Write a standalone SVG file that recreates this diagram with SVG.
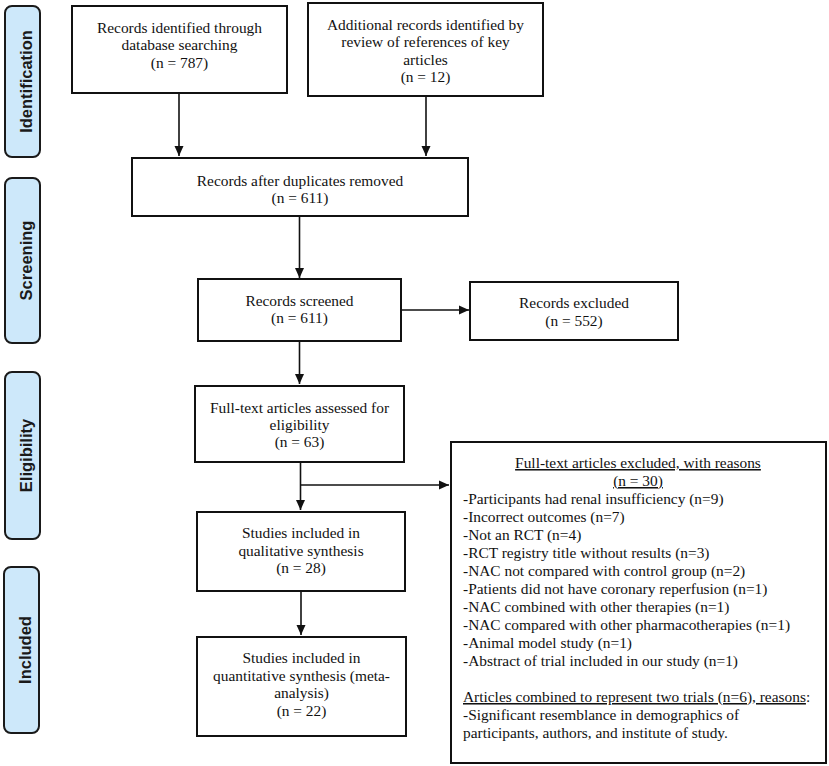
<svg xmlns="http://www.w3.org/2000/svg" width="829" height="766" viewBox="0 0 829 766">
<style>
.box{fill:#fff;stroke:#111;stroke-width:2}
.phase{fill:#cde8fa;stroke:#1a1a1a;stroke-width:2}
.t{font-family:"Liberation Serif","Times New Roman",serif;font-size:15.4px;fill:#111}
.c{text-anchor:middle}
.ph{font-family:"Liberation Sans",Arial,sans-serif;font-size:16.5px;font-weight:bold;fill:#1a1a1a;text-anchor:middle}
.u{text-decoration:underline}
.ln{stroke:#111;stroke-width:1.6;fill:none}
</style>
<defs>
<marker id="ah" markerUnits="userSpaceOnUse" markerWidth="10" markerHeight="10" viewBox="0 0 10 10" refX="10" refY="5" orient="auto">
<path d="M0,0.5 L10,5 L0,9.5 Z" fill="#111"/>
</marker>
</defs>
<g id="phases">
<g id="phase-identification"><rect class="phase" x="5" y="6" width="35" height="151" rx="7"/><text class="ph" transform="translate(31.5,81.5) rotate(-90)">Identification</text></g>
<g id="phase-screening"><rect class="phase" x="5" y="178" width="35" height="165" rx="7"/><text class="ph" transform="translate(31.5,260.5) rotate(-90)">Screening</text></g>
<g id="phase-eligibility"><rect class="phase" x="5" y="372" width="35" height="167" rx="7"/><text class="ph" transform="translate(31.5,455.5) rotate(-90)">Eligibility</text></g>
<g id="phase-included"><rect class="phase" x="4" y="567" width="35" height="166" rx="7"/><text class="ph" transform="translate(31,650) rotate(-90)">Included</text></g>
</g>
<g id="connectors">
<line class="ln" x1="179" y1="93" x2="179" y2="156" marker-end="url(#ah)"/>
<line class="ln" x1="426" y1="96" x2="426" y2="156" marker-end="url(#ah)"/>
<line class="ln" x1="299.5" y1="216" x2="299.5" y2="278" marker-end="url(#ah)"/>
<line class="ln" x1="401" y1="310" x2="469" y2="310" marker-end="url(#ah)"/>
<line class="ln" x1="299.5" y1="342" x2="299.5" y2="384" marker-end="url(#ah)"/>
<line class="ln" x1="300.5" y1="462" x2="300.5" y2="510" marker-end="url(#ah)"/>
<line class="ln" x1="300.5" y1="485" x2="449" y2="485" marker-end="url(#ah)"/>
<line class="ln" x1="301" y1="591" x2="301" y2="635" marker-end="url(#ah)"/>
</g>
<g id="node-db">
<rect class="box" x="72" y="6" width="215" height="87"/>
<text class="t c" x="179.5" y="32.5">Records identified through</text>
<text class="t c" x="179.5" y="50">database searching</text>
<text class="t c" x="179.5" y="67.5">(n = 787)</text>
</g>
<g id="node-additional">
<rect class="box" x="308" y="3" width="235" height="93"/>
<text class="t c" x="425.5" y="29.5">Additional records identified by</text>
<text class="t c" x="425.5" y="47">review of references of key</text>
<text class="t c" x="425.5" y="64.5">articles</text>
<text class="t c" x="425.5" y="82">(n = 12)</text>
</g>
<g id="node-dupes">
<rect class="box" x="132" y="158" width="336" height="58"/>
<text class="t c" x="300" y="186">Records after duplicates removed</text>
<text class="t c" x="300" y="203">(n = 611)</text>
</g>
<g id="node-screened">
<rect class="box" x="198" y="279" width="203" height="62"/>
<text class="t c" x="299.5" y="306">Records screened</text>
<text class="t c" x="299.5" y="323">(n = 611)</text>
</g>
<g id="node-excluded">
<rect class="box" x="470" y="282" width="208" height="58"/>
<text class="t c" x="574" y="308">Records excluded</text>
<text class="t c" x="574" y="326">(n = 552)</text>
</g>
<g id="node-fulltext">
<rect class="box" x="195" y="386" width="209" height="76"/>
<text class="t c" x="299.5" y="413">Full-text articles assessed for</text>
<text class="t c" x="299.5" y="430">eligibility</text>
<text class="t c" x="299.5" y="447">(n = 63)</text>
</g>
<g id="node-qualitative">
<rect class="box" x="197" y="512" width="208" height="79"/>
<text class="t c" x="301" y="538">Studies included in</text>
<text class="t c" x="301" y="555.5">qualitative synthesis</text>
<text class="t c" x="301" y="573">(n = 28)</text>
</g>
<g id="node-quantitative">
<rect class="box" x="197" y="637" width="209" height="99"/>
<text class="t c" x="301.5" y="663">Studies included in</text>
<text class="t c" x="301.5" y="680.5">quantitative synthesis (meta-</text>
<text class="t c" x="301.5" y="698">analysis)</text>
<text class="t c" x="301.5" y="716">(n = 22)</text>
</g>
<g id="node-reasons">
<rect class="box" x="451" y="442" width="375" height="321"/>
<text class="t c u" x="638" y="468">Full-text articles excluded, with reasons</text>
<text class="t c u" x="638" y="486">(n = 30)</text>
<text class="t" x="463" y="504">-Participants had renal insufficiency (n=9)</text>
<text class="t" x="463" y="522">-Incorrect outcomes (n=7)</text>
<text class="t" x="463" y="540">-Not an RCT (n=4)</text>
<text class="t" x="463" y="558">-RCT registry title without results (n=3)</text>
<text class="t" x="463" y="576">-NAC not compared with control group (n=2)</text>
<text class="t" x="463" y="594">-Patients did not have coronary reperfusion (n=1)</text>
<text class="t" x="463" y="612">-NAC combined with other therapies (n=1)</text>
<text class="t" x="463" y="630">-NAC compared with other pharmacotherapies (n=1)</text>
<text class="t" x="463" y="648">-Animal model study (n=1)</text>
<text class="t" x="463" y="666">-Abstract of trial included in our study (n=1)</text>
<text class="t" x="463" y="702"><tspan class="u">Articles combined to represent two trials (n=6), reasons</tspan>:</text>
<text class="t" x="463" y="720">-Significant resemblance in demographics of</text>
<text class="t" x="463" y="738">participants, authors, and institute of study.</text>
</g>
</svg>
